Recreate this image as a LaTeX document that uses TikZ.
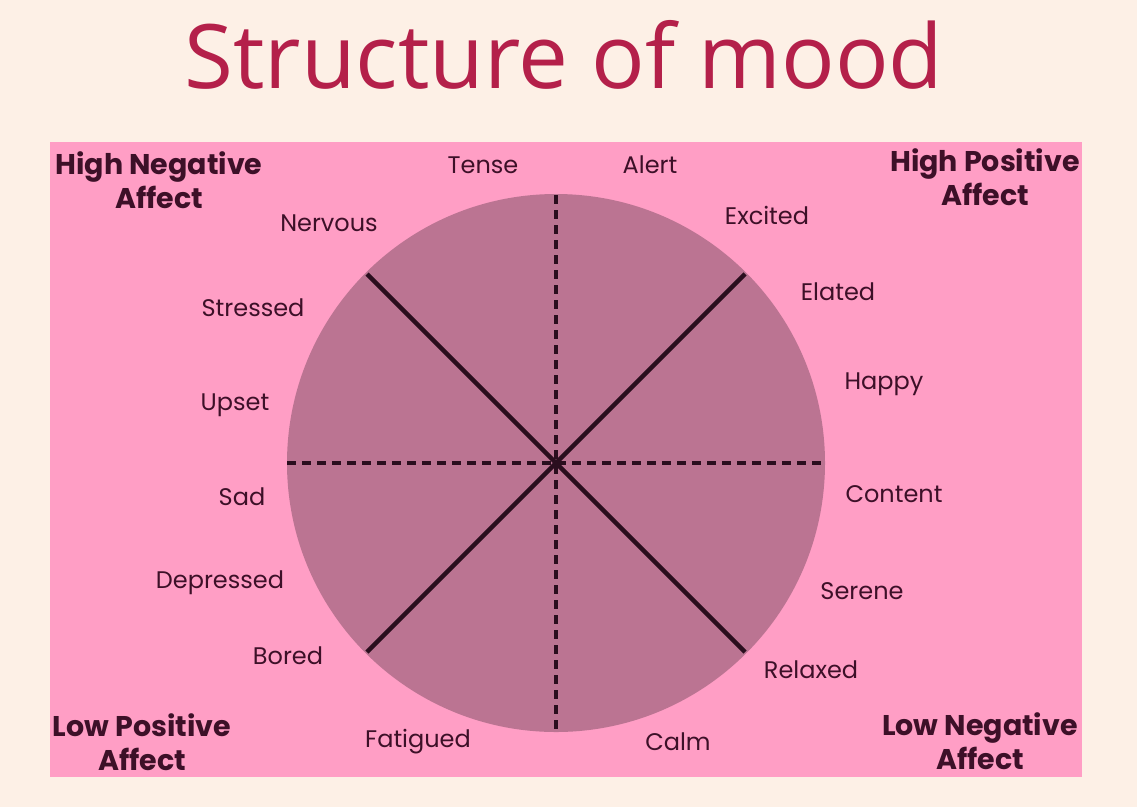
\documentclass[tikz,border=0pt]{standalone}
\usepackage{fontspec}
\usetikzlibrary{calc}
\setmainfont{Poppins}
\newfontfamily\titlefont{Open Sans}
\newfontfamily\labfont{Poppins}
\newfontfamily\cornerfont{Poppins}[UprightFont=* Bold]
\definecolor{bgc}{HTML}{FDF0E6}
\definecolor{rectc}{HTML}{FF9EC5}
\definecolor{circc}{HTML}{BB7492}
\definecolor{titlec}{HTML}{B4204A}
\definecolor{textc}{HTML}{3D1028}
\definecolor{linec}{HTML}{2A0E1E}
\begin{document}
\begin{tikzpicture}[x=1pt,y=-1pt,
  mood/.style={text=textc,font=\labfont\fontsize{24}{26}\selectfont,inner sep=0pt},
  corner/.style={text=textc,font=\cornerfont\fontsize{28.5}{34}\selectfont,align=center,inner sep=0pt},
  solidline/.style={draw=linec,line width=4.5pt},
  dashline/.style={draw=linec,line width=3.5pt,dash pattern=on 9pt off 6pt}]
\useasboundingbox (0,0) rectangle (1137,807);
\fill[bgc] (0,0) rectangle (1137,807);
\fill[rectc] (50,142) rectangle (1082,777);
\node[text=titlec,font=\titlefont\fontsize{89}{91}\selectfont,inner sep=0pt] (title) at (564,55) {Structure of mood};
\coordinate (c) at (556,463);
\fill[circc] (c) circle[radius=269];
\coordinate (n) at (556,195);
\coordinate (s) at (556,731);
\coordinate (w) at (287,463);
\coordinate (e) at (825,463);
\coordinate (nw) at ($(c)+(-189,-189)$);
\coordinate (ne) at ($(c)+(189,-189)$);
\coordinate (sw) at ($(c)+(-189,189)$);
\coordinate (se) at ($(c)+(189,189)$);
\draw[dashline] (n) -- (s);
\draw[dashline] (w) -- (e);
\draw[solidline] (nw) -- (se);
\draw[solidline] (ne) -- (sw);
\node[mood] (tense) at (483,165) {Tense};
\node[mood] (alert) at (650,165) {Alert};
\node[mood] (nervous) at (329,223) {Nervous};
\node[mood] (excited) at (767,215) {Excited};
\node[mood] (stressed) at (253,308) {Stressed};
\node[mood] (elated) at (838,292) {Elated};
\node[mood] (upset) at (235,405) {Upset};
\node[mood] (happy) at (884,384) {Happy};
\node[mood] (sad) at (242,497) {Sad};
\node[mood] (content) at (894,494) {Content};
\node[mood] (depressed) at (220,583) {Depressed};
\node[mood] (serene) at (862,591) {Serene};
\node[mood] (bored) at (288,656) {Bored};
\node[mood] (relaxed) at (811,670) {Relaxed};
\node[mood] (fatigued) at (418,742) {Fatigued};
\node[mood] (calm) at (678,742) {Calm};
\node[corner] (hna) at (159,180) {High Negative\\Affect};
\node[corner] (hpa) at (985,177) {High Positive\\Affect};
\node[corner] (lpa) at (142,742) {Low Positive\\Affect};
\node[corner] (lna) at (980,741) {Low Negative\\Affect};
\end{tikzpicture}
\end{document}
